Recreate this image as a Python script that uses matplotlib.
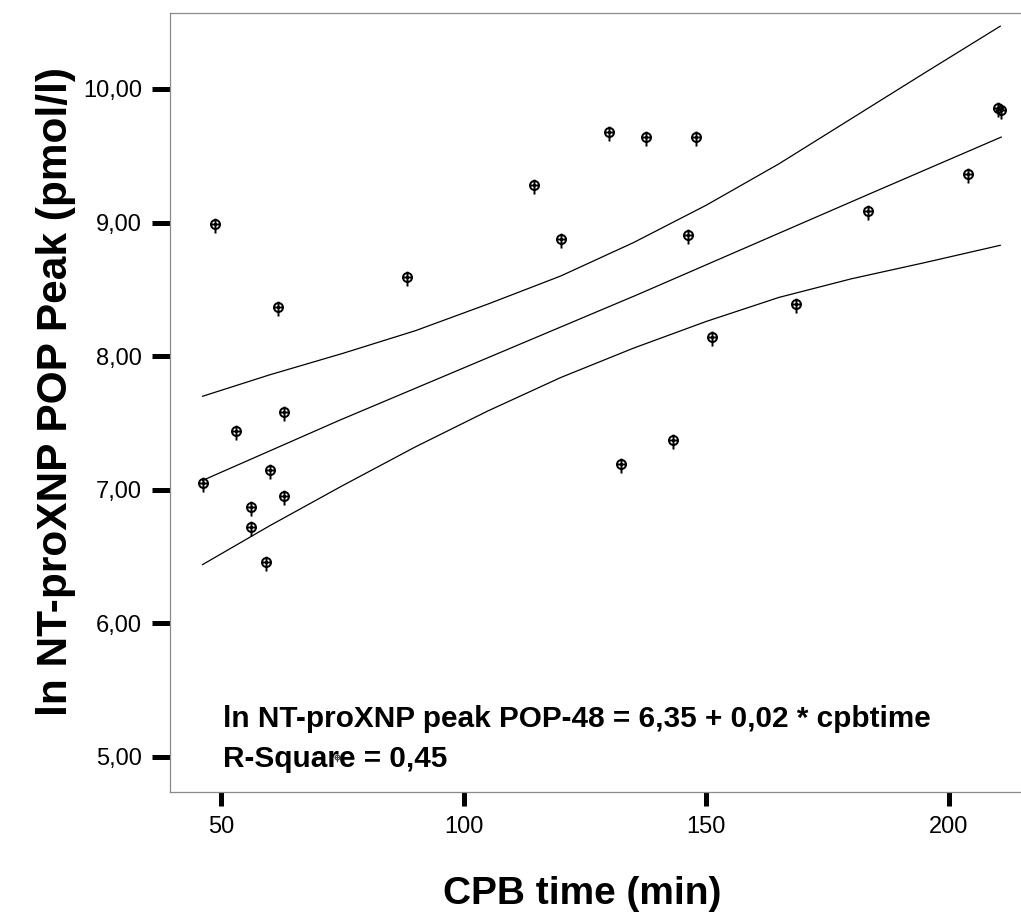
import numpy as np
import matplotlib
matplotlib.use("Agg")
import matplotlib.pyplot as plt
from matplotlib.path import Path

# data (CPB time in min, ln NT-proXNP peak)
cpb_time = [46.2, 48.8, 53.1, 56.2, 56.2, 59.3, 60.0, 61.7, 63.0, 63.0,
            88.4, 114.5, 120.0, 130.0, 132.5, 137.5, 143.1, 146.2, 148.0,
            151.1, 168.5, 183.4, 204.0, 210.2, 210.8]
ln_peak = [7.05, 8.99, 7.44, 6.87, 6.72, 6.46, 7.15, 8.37, 7.58, 6.95,
           8.59, 9.28, 8.88, 9.68, 7.19, 9.64, 7.37, 8.91, 9.64,
           8.14, 8.39, 9.09, 9.36, 9.86, 9.84]

# fit line and its 95% band
fit_x = [46.2, 74.4, 135.8, 184.0, 210.8]
fit_y = [7.07, 7.52, 8.46, 9.22, 9.64]
band_x = [46.2, 60, 75, 90, 105, 120, 135, 150, 165, 180, 195, 210.6]
upper_y = [7.70, 7.86, 8.02, 8.19, 8.39, 8.60, 8.85, 9.13, 9.44, 9.78, 10.12, 10.47]
lower_y = [6.44, 6.73, 7.03, 7.32, 7.59, 7.84, 8.06, 8.26, 8.44, 8.58, 8.70, 8.83]

x_ticks = [50, 100, 150, 200]
y_ticks = [5, 6, 7, 8, 9, 10]
y_ticklabels = ["5,00", "6,00", "7,00", "8,00", "9,00", "10,00"]

fit_text = "ln NT-proXNP peak POP-48 = 6,35 + 0,02 * cpbtime"
r2_text = "R-Square = 0,45"
stray_marker = (73.9, 5.0)   # the little symbol sitting on "Square"

plt.rcParams['font.family'] = ['Liberation Sans', 'DejaVu Sans']

# marker: circle with a cross, vertical stroke running down past the circle
circ = Path.circle((0, 0), 1.0)
cross = Path([(-1, 0), (1, 0), (0, 1.3), (0, -2.0)],
             [Path.MOVETO, Path.LINETO, Path.MOVETO, Path.LINETO])
pin = Path.make_compound_path(circ, cross)

fig = plt.figure(figsize=(10.21, 9.14), dpi=100)
ax = fig.add_axes([0.1665, 0.1335, 0.8374, 0.8523])

ax.plot(fit_x, fit_y, color='black', lw=0.9)
ax.plot(band_x, upper_y, color='black', lw=0.9)
ax.plot(band_x, lower_y, color='black', lw=0.9)

ax.plot(cpb_time, ln_peak, linestyle='none', marker=pin, markersize=13,
        markerfacecolor='none', markeredgecolor='black', markeredgewidth=1.4)
ax.plot([stray_marker[0]], [stray_marker[1]], linestyle='none', marker=pin,
        markersize=7, markerfacecolor='none', markeredgecolor='#444444',
        markeredgewidth=0.8)

ax.set_xlim(39.49, 215.7)
ax.set_ylim(4.738, 10.569)

ax.set_xticks(x_ticks)
ax.set_xticklabels([str(v) for v in x_ticks])
ax.set_yticks(y_ticks)
ax.set_yticklabels(y_ticklabels)

for sp in ax.spines.values():
    sp.set_color('#8a8a8a')
    sp.set_linewidth(0.9)

ax.tick_params(axis='y', direction='out', length=13, width=3.6, color='black',
               pad=7, labelsize=17)
ax.tick_params(axis='x', direction='out', length=10, width=3.6, color='black',
               pad=7, labelsize=17)

ax.text(50.4, 5.225, fit_text, fontsize=21.4, fontweight='bold', va='baseline')
ax.text(50.4, 4.925, r2_text, fontsize=21.4, fontweight='bold', va='baseline')

fig.text(582 / 1021, 10 / 914, "CPB time (min)", fontsize=28, fontweight='bold',
         ha='center', va='baseline')
fig.text(67 / 1021, 1 - 392 / 914, "ln NT-proXNP POP Peak (pmol/l)", fontsize=30.5,
         fontweight='bold', rotation=90, rotation_mode='anchor',
         ha='center', va='baseline')

fig.savefig("out.png", dpi=100)
